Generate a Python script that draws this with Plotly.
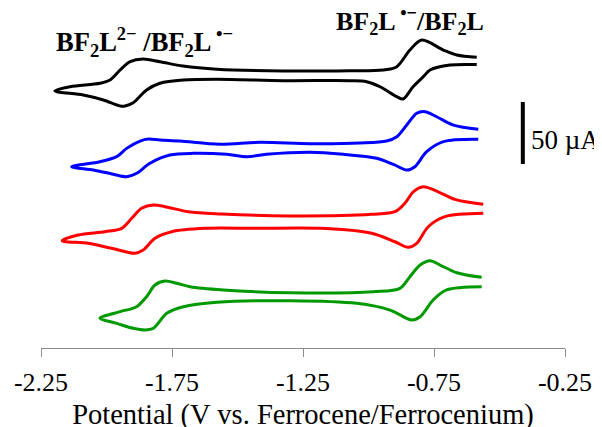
import plotly.graph_objects as go

# ---- data (potential in V vs Fc/Fc+, current in uA, traces stacked) ----
black_potential = [-0.587, -0.663, -0.714, -0.797, -0.842, -0.892, -0.945, -1.071, -1.326, -1.579,
                   -1.708, -1.796, -1.861, -1.910, -1.948, -1.987, -2.025, -2.139, -2.197,
                   -2.089, -2.012, -1.948, -1.929, -1.898, -1.847, -1.796, -1.707, -1.579, -1.325,
                   -1.071, -1.007, -0.956, -0.892, -0.868, -0.830, -0.791, -0.765, -0.689, -0.587]
black_current = [234.4, 236.3, 240.3, 248.4, 240.3, 226.9, 224.2, 223.6, 223.4, 224.8,
                 227.4, 230.9, 233.1, 230.9, 224.2, 216.1, 213.5, 210.7, 207.3,
                 204.0, 200.0, 195.2, 195.2, 197.8, 208.1, 213.5, 216.1, 216.7, 215.6,
                 215.6, 214.8, 210.7, 202.7, 200.8, 210.7, 218.8, 224.2, 228.2, 228.6]

blue_potential = [-0.581, -0.676, -0.740, -0.784, -0.816, -0.854, -0.892, -0.931, -1.032, -1.223,
                  -1.414, -1.567, -1.719, -1.796, -1.840, -1.872, -1.923, -1.961, -2.025, -2.133,
                  -2.050, -1.974, -1.923, -1.885, -1.834, -1.758, -1.669, -1.541, -1.465, -1.389,
                  -1.223, -1.096, -0.969, -0.905, -0.854, -0.823, -0.778, -0.714, -0.581]
blue_current = [176.4, 179.8, 186.5, 190.6, 189.3, 179.8, 170.4, 166.9, 165.3, 164.8,
                165.9, 164.3, 166.9, 167.7, 168.5, 166.9, 161.0, 154.3, 150.2, 146.2,
                143.5, 140.1, 138.1, 140.9, 149.0, 155.6, 157.0, 156.2, 154.3, 156.2,
                157.8, 156.2, 153.0, 148.1, 143.5, 146.2, 158.3, 166.4, 168.3]

red_potential = [-0.562, -0.670, -0.734, -0.791, -0.829, -0.861, -0.899, -0.988, -1.306, -1.560,
                 -1.688, -1.777, -1.821, -1.866, -1.904, -1.942, -2.006, -2.108, -2.169,
                 -2.069, -1.980, -1.891, -1.860, -1.815, -1.751, -1.624, -1.433, -1.179,
                 -0.988, -0.899, -0.848, -0.816, -0.772, -0.708, -0.562]
red_current = [115.9, 119.9, 126.0, 130.1, 126.0, 116.7, 109.9, 107.8, 106.5, 108.1,
               109.9, 114.0, 115.3, 112.7, 104.6, 96.5, 93.8, 91.1, 86.5,
               84.4, 80.4, 76.4, 79.0, 88.5, 93.8, 96.5, 96.5, 96.5,
               92.5, 85.7, 81.2, 84.4, 97.8, 105.9, 108.6]

green_potential = [-0.568, -0.663, -0.727, -0.765, -0.803, -0.842, -0.880, -0.982, -1.300, -1.554,
                   -1.681, -1.732, -1.777, -1.815, -1.847, -1.885, -1.948, -2.025,
                   -1.961, -1.898, -1.853, -1.821, -1.770, -1.707, -1.579, -1.300, -1.045,
                   -0.918, -0.835, -0.803, -0.753, -0.702, -0.568]
green_current = [57.0, 60.7, 66.9, 70.4, 66.9, 57.5, 48.1, 45.4, 44.6, 46.8,
                 49.4, 52.2, 54.0, 50.8, 41.4, 33.3, 29.3, 24.0,
                 19.9, 15.9, 14.5, 15.9, 28.0, 33.3, 36.9, 38.1, 36.0,
                 30.6, 22.6, 25.2, 38.7, 46.8, 49.4]

tick_values = [-2.25, -1.75, -1.25, -0.75, -0.25]
tick_labels = ["-2.25", "-1.75", "-1.25", "-0.75", "-0.25"]
scale_bar_uA = 50
x_title = "Potential (V vs. Ferrocene/Ferrocenium)"
label_left = "BF<sub>2</sub>L<sup>2\u2212</sup> /BF<sub>2</sub>L<sup> \u2022\u2212</sup>"
label_right = "BF<sub>2</sub>L<sup> \u2022\u2212</sup>/BF<sub>2</sub>L"

FONT = "Liberation Serif, Times New Roman, serif"

fig = go.Figure()
for xs, ys, col in [(black_potential, black_current, "#000000"),
                    (blue_potential, blue_current, "#0000FF"),
                    (red_potential, red_current, "#FF0000"),
                    (green_potential, green_current, "#009900")]:
    fig.add_trace(go.Scatter(x=xs, y=ys, mode="lines",
                             line=dict(color=col, width=3, shape="spline", smoothing=0.9),
                             showlegend=False, hoverinfo="skip"))

# scale bar
bar_x = -0.411
bar_y0 = 148.4
fig.add_shape(type="line", x0=bar_x, x1=bar_x, y0=bar_y0, y1=bar_y0 + scale_bar_uA,
              line=dict(color="black", width=4))
fig.add_annotation(x=-0.386, y=bar_y0 + 0.39 * scale_bar_uA, text="50 \u00b5A", showarrow=False,
                   xanchor="left", yanchor="middle", font=dict(family=FONT, size=27, color="black"))

fig.add_annotation(x=-2.199, y=246.5, text=label_left, showarrow=False, xanchor="left",
                   yanchor="middle", font=dict(family=FONT, size=26.5, color="black", weight="bold"))
fig.add_annotation(x=-0.840, y=263.5, text=label_right, showarrow=False, xanchor="center",
                   yanchor="middle", font=dict(family=FONT, size=26, color="black", weight="bold"))

# the page body adds an 8 px offset, so margins are shifted by -8 px
fig.update_layout(
    width=602, height=427,
    margin=dict(l=33, r=45, t=2, b=87, autoexpand=False),
    plot_bgcolor="white", paper_bgcolor="white",
    xaxis=dict(range=[-2.25, -0.25], tickvals=tick_values, ticktext=tick_labels,
               showline=True, linecolor="#8c8c8c", linewidth=1, ticks="outside",
               ticklen=8, tickcolor="#8c8c8c", showgrid=False, zeroline=False,
               ticklabelstandoff=3, automargin=False,
               tickfont=dict(family=FONT, size=26, color="black"),
               title=dict(text=x_title, font=dict(family=FONT, size=28.5, color="black"), standoff=7)),
    yaxis=dict(range=[0, 272.6], visible=False),
)

fig.write_html("out.html")
